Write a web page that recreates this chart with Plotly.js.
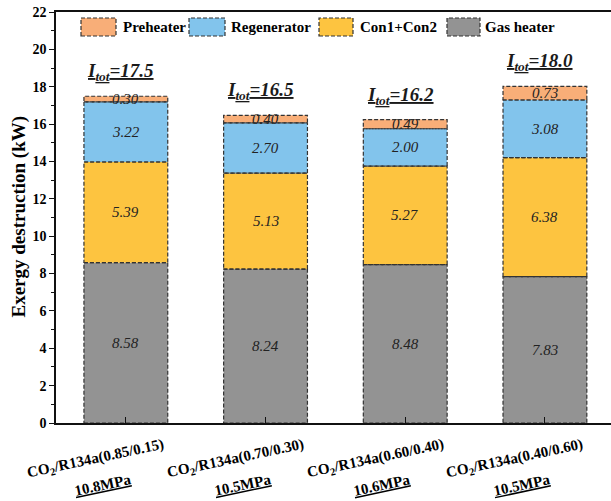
<!DOCTYPE html>
<html>
<head>
<meta charset="utf-8">
<script src="https://cdn.plot.ly/plotly-3.0.1.min.js"></script>
<style>html,body{margin:0;padding:0;overflow:hidden;background:#fff;}</style>
</head>
<body>
<div id="chart" style="width:611px;height:501px;"></div>
<script>
// ---- data ----
const categories = ['CO<sub>2</sub>/R134a(0.85/0.15)', 'CO<sub>2</sub>/R134a(0.70/0.30)', 'CO<sub>2</sub>/R134a(0.60/0.40)', 'CO<sub>2</sub>/R134a(0.40/0.60)'];
const pressures = ['10.8MPa', '10.5MPa', '10.6MPa', '10.5MPa'];
const seriesNames = ['Gas heater', 'Con1+Con2', 'Regenerator', 'Preheater'];
const gasHeater = [8.58, 8.24, 8.48, 7.83];
const con12 = [5.39, 5.13, 5.27, 6.38];
const regenerator = [3.22, 2.70, 2.00, 3.08];
const preheater = [0.30, 0.40, 0.49, 0.73];
const totals = ['17.5', '16.5', '16.2', '18.0'];
const yTicks = [0, 2, 4, 6, 8, 10, 12, 14, 16, 18, 20, 22];

// ---- style ----
const colors = ['#939393', '#FDC440', '#82C4EC', '#F8AE78'];
const FONT = 'Liberation Serif';
const DASH = '4px,2px';
const EDGE = '#333333';
const BW = 0.6;
const XRANGE = [-0.5, 3.473];

const series = [gasHeater, con12, regenerator, preheater];
const xs = categories.map((_, i) => i);

const px = p => (p - 56) / 555;
const py = p => (423 - p) / 411;

const traces = [];
const annotations = [];
const bases = xs.map(() => 0);

series.forEach((vals, s) => {
  const b = bases.slice();
  traces.push({
    type: 'bar', x: xs, y: vals, base: b, width: BW,
    marker: {color: colors[s], line: {width: 0}},
    showlegend: false, hoverinfo: 'skip'
  });
  const ox = [], oy = [];
  vals.forEach((v, i) => {
    const l = i - BW / 2, r = i + BW / 2, y0 = b[i], y1 = b[i] + v;
    ox.push(l, r, r, l, l, null);
    oy.push(y0, y0, y1, y1, y0, null);
    annotations.push({
      x: i, y: y0 + v / 2, xref: 'x', yref: 'y', showarrow: false,
      text: '<i>' + v.toFixed(2) + '</i>',
      font: {family: FONT, size: 15, color: '#222'}
    });
    bases[i] = y1;
  });
  traces.push({
    type: 'scatter', mode: 'lines', x: ox, y: oy,
    line: {color: EDGE, width: 1.2, dash: DASH},
    showlegend: false, hoverinfo: 'skip', connectgaps: false
  });
});

// totals
totals.forEach((t, i) => {
  annotations.push({
    x: i, y: bases[i], xref: 'x', yref: 'y', showarrow: false,
    xanchor: 'center', yanchor: 'middle', xshift: -5, yshift: 24,
    text: '<b><i><u>I<sub>tot</sub>=' + t + '</u></i></b>',
    font: {family: FONT, size: 19, color: '#1a1a1a'}
  });
});

// category labels (two lines)
categories.forEach((c, i) => {
  annotations.push({
    x: i, y: py(459), xref: 'x', yref: 'paper', showarrow: false,
    xanchor: 'center', yanchor: 'middle', xshift: -30, textangle: -12,
    text: '<b>' + c + '</b>',
    font: {family: FONT, size: 15, color: '#000'}
  });
  annotations.push({
    x: i, y: py(485), xref: 'x', yref: 'paper', showarrow: false,
    xanchor: 'center', yanchor: 'middle', xshift: -23, textangle: -12,
    text: '<b><u>' + pressures[i] + '</u></b>',
    font: {family: FONT, size: 15, color: '#000'}
  });
});

// y title
annotations.push({
  x: px(18), y: py(216.5), xref: 'paper', yref: 'paper', showarrow: false,
  textangle: -90, xanchor: 'center', yanchor: 'middle',
  text: '<b>Exergy destruction (kW)</b>',
  font: {family: FONT, size: 19, color: '#000'}
});

// custom legend (order: Preheater, Regenerator, Con1+Con2, Gas heater)
const legendOrder = [3, 2, 1, 0];
const swX = [[81, 116], [189, 225], [319, 353], [447, 480]];
const txtX = [121, 229, 358, 483];
const shapes = [];
legendOrder.forEach((s, k) => {
  shapes.push({
    type: 'rect', xref: 'paper', yref: 'paper',
    x0: px(swX[k][0]), x1: px(swX[k][1]), y0: py(36), y1: py(18),
    fillcolor: colors[s], line: {color: EDGE, width: 1.2, dash: DASH}
  });
  annotations.push({
    x: px(txtX[k]), y: py(27), xref: 'paper', yref: 'paper', showarrow: false,
    xanchor: 'left', yanchor: 'middle',
    text: '<b>' + seriesNames[s] + '</b>',
    font: {family: FONT, size: 15, color: '#000'}
  });
});

const layout = {
  width: 611, height: 501,
  font: {family: FONT},
  margin: {l: 56, r: 0, t: 12, b: 78},
  paper_bgcolor: '#fff', plot_bgcolor: '#fff',
  barmode: 'overlay',
  showlegend: false,
  xaxis: {
    range: XRANGE, tickvals: xs, ticktext: xs.map(() => ''),
    ticks: 'inside', ticklen: 6, tickwidth: 1.3, tickcolor: '#111',
    showline: true, linewidth: 1.5, linecolor: '#111', mirror: true,
    showgrid: false, zeroline: false, fixedrange: true
  },
  yaxis: {
    range: [0, 22], tickvals: yTicks, ticktext: yTicks.map(String),
    ticks: 'outside', ticklen: 5, tickwidth: 1.3, tickcolor: '#111',
    minor: {dtick: 1, ticks: 'outside', ticklen: 3, tickwidth: 1.2, tickcolor: '#111', showgrid: false},
    showline: true, linewidth: 1.5, linecolor: '#111',
    showgrid: false, zeroline: false,
    tickfont: {family: FONT, size: 14, color: '#000', weight: 'bold'},
    fixedrange: true
  },
  annotations: annotations,
  shapes: shapes
};

Plotly.newPlot('chart', traces, layout, {displayModeBar: false});
</script>
</body>
</html>
